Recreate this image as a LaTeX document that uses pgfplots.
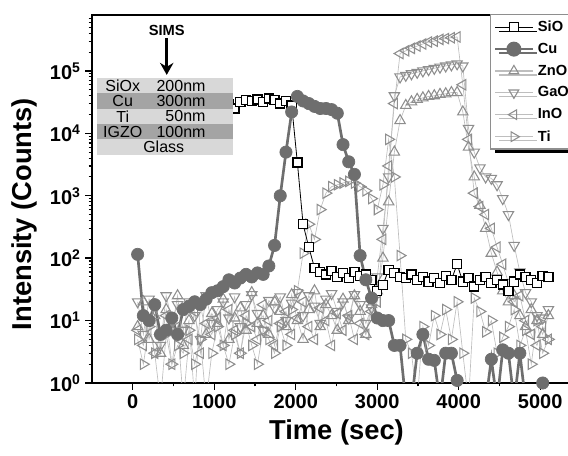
\documentclass[border=0pt]{standalone}
\usepackage{pgfplots}
\pgfplotsset{compat=1.18}
\usepackage{pgfplotstable}
\usepackage{fontspec}
\setmainfont{Liberation Sans}
\usetikzlibrary{shadows,arrows.meta}
\definecolor{cugray}{HTML}{6E6E6E}
\definecolor{lgray}{HTML}{8E8E8E}
\definecolor{lline}{HTML}{BEBEBE}
\definecolor{boxlight}{HTML}{D8D8D8}
\definecolor{boxdark}{HTML}{A4A4A4}
\pgfplotstableread{
t sio cu zno gao ino ti
60 30000 115 8 20 7 5
130 31000 12 20 6 4 2
200 29000 10 5 22 10 8
270 32000 18 12 15 3 3
340 30000 6 3 4 6 0.5
410 31000 7 15 25 12 6
480 29000 11 7 10 2 2
550 30000 6 25 18 8 4
620 32000 15 4 7 0.5 3
690 31000 17 10 20 5 7
760 30000 20 0.5 12 14 2
830 29000 18 18 5 3 5
900 31000 22 6 25 9 0.5
970 30000 28 13 9 6 3
1040 32000 30 9 15 11 8
1110 31000 35 22 20 4 4
1180 29000 45 5 11 15 2
1250 25000 40 11 24 7 6
1320 32000 48 16 8 3 3
1390 34000 55 7 18 12 9
1460 33000 50 28 26 8 4
1530 35000 58 9 13 5 2
1600 32000 55 12 7 18 7
1670 36000 75 6 21 10 5
1740 34000 160 20 16 4 3
1810 30000 1000 14 24 9 8
1880 33000 5000 8 10 14 4
1950 28000 22000 26 19 6 15
2020 3400 39000 10 28 11 30
2090 350 33000 5 12 20 120
2160 150 30000 15 25 8 350
2230 70 27000 30 17 5 200
2300 60 25000 8 9 16 600
2370 55 25000 18 22 10 1100
2440 62 24000 12 27 4 1400
2510 50 21000 7 14 13 1500
2580 58 6600 22 20 7 1600
2650 48 3500 10 11 12 1700
2720 60 2200 25 26 5 1600
2790 52 110 14 18 9 1400
2860 55 45 6 9 6 1200
2930 45 23 18 16 14 900
3000 30 11 30 50 20 600
3070 37 10 100 300 200 1500
3140 65 10 800 2000 3000 8000
3210 58 4 5000 40000 30000 2000
3280 50 4 16000 80000 190000 110
3350 48 0.5 28000 85000 210000 5
3420 55 0.5 32000 90000 230000 3
3490 45 3 35000 95000 250000 0.5
3560 50 6 37000 100000 270000 8
3630 42 2.4 39000 105000 290000 4
3700 48 2.3 40000 110000 300000 12
3770 40 0.5 42000 115000 320000 6
3840 52 3 43000 120000 330000 15
3910 45 3 45000 125000 340000 5
3980 80 1.1 45000 130000 350000 20
4050 42 0.5 22000 120000 60000 3
4120 48 0.5 6000 12000 8000 0.5
4190 35 0.5 2000 5000 1100 23
4260 45 0.5 700 2800 670 14
4330 50 0.5 300 2000 500 6.6
4400 40 2.4 120 1900 300 10
4470 45 0.5 60 1500 150 3
4540 38 3.4 30 900 80 5.4
4610 30 3 20 500 40 8
4680 42 0.5 25 160 20 15
4750 55 3 12 60 25 4
4820 50 0.5 8 28 10 7
4890 45 0.5 15 20 6 2
4960 40 0.5 10 12 4 10
5030 52 1 6 11 8 3
5100 50 0.5 12 15 5 5
}\data
\begin{document}
\begin{tikzpicture}
\begin{axis}[
  set layers,
  at={(0,0)}, anchor=south west, scale only axis,
  width=366.75pt, height=276pt,
  ymode=log, log basis y=10,
  xmin=-500, xmax=5500, ymin=1, ymax=7.87e5,
  xtick={0,1000,2000,3000,4000,5000}, minor x tick num=1,
  ytick={1,10,100,1000,10000,100000,1000000},
  minor ytick={2,3,4,5,6,7,8,9,20,30,40,50,60,70,80,90,200,300,400,500,600,700,800,900,2000,3000,4000,5000,6000,7000,8000,9000,20000,30000,40000,50000,60000,70000,80000,90000,200000,300000,400000,500000,600000,700000},
  xtick pos=bottom, ytick pos=left, tick align=outside,
  major tick length=5pt, minor tick length=2.5pt,
  axis line style={line width=1.4pt, black},
  every tick/.style={line width=1.1pt, black},
  every minor tick/.style={line width=0.8pt, black},
  /pgf/number format/1000 sep={}, /pgf/number format/assume math mode=true,
  xticklabel style={font=\fontsize{15}{15}\selectfont\bfseries},
  yticklabel style={font=\fontsize{15}{15}\selectfont\bfseries},
  yticklabel={10\textsuperscript{\pgfmathprintnumber[fixed,precision=0,assume math mode=true]{\tick}}},
  xlabel={Time (sec)}, ylabel={Intensity (Counts)},
  every axis x label/.style={at={(rel axis cs:0.5,0)}, anchor=center, yshift=-37pt, font=\fontsize{20.5}{20.5}\selectfont\bfseries},
  every axis y label/.style={at={(rel axis cs:0,0.459)}, anchor=center, rotate=90, yshift=51pt, font=\fontsize{20.5}{20.5}\selectfont\bfseries},
  legend style={at={(rel axis cs:0.814,1.002)}, anchor=north west, draw=lgray, line width=0.8pt, fill=white,
    font=\fontsize{11}{12}\selectfont\bfseries, row sep=3.2pt, inner sep=2.5pt,
    nodes={inner xsep=3pt},
    drop shadow={shadow xshift=3pt, shadow yshift=-3pt, fill=black, opacity=1}},
  legend cell align=left,
  legend image code/.code={\draw[mark repeat=2,mark phase=2,#1] plot coordinates {(0pt,0pt) (14pt,0pt) (28pt,0pt)};},
  clip mode=global,
]
\addplot[lline, line width=0.5pt, mark=triangle, mark size=4.5pt, mark options={draw=lgray, line width=0.8pt, solid, rotate=-90}, forget plot] table[x=t,y=ti] {\data};
\addplot[lline, line width=0.5pt, mark=triangle, mark size=4.5pt, mark options={draw=lgray, line width=0.8pt, solid, rotate=90}, forget plot] table[x=t,y=ino] {\data};
\addplot[lline, line width=0.5pt, mark=triangle, mark size=4.5pt, mark options={draw=lgray, line width=0.8pt, solid, rotate=180}, forget plot] table[x=t,y=gao] {\data};
\addplot[lline, line width=0.5pt, mark=triangle, mark size=4.5pt, mark options={draw=lgray, line width=0.8pt, solid}, forget plot] table[x=t,y=zno] {\data};
\addplot[black, line width=0.6pt, mark=square*, mark size=3.4pt, mark options={fill=white, draw=black, line width=1pt, solid}, forget plot] table[x=t,y=sio] {\data};
\addplot[cugray, line width=2pt, mark=*, mark size=4.6pt, mark options={fill=cugray, draw=cugray, line width=0.5pt, solid}, forget plot] table[x=t,y=cu] {\data};

\addlegendimage{black, line width=0.6pt, mark=square*, mark size=3.3pt, mark options={fill=white, draw=black, line width=1pt, solid}}
\addlegendentry{SiO}
\addlegendimage{cugray, line width=2pt, mark=*, mark size=4.6pt, mark options={fill=cugray, draw=cugray, solid}}
\addlegendentry{Cu}
\addlegendimage{lline, line width=0.8pt, mark=triangle, mark size=4.2pt, mark options={draw=lgray, line width=0.8pt, solid}}
\addlegendentry{ZnO}
\addlegendimage{lline, line width=0.8pt, mark=triangle, mark size=4.2pt, mark options={draw=lgray, line width=0.8pt, solid, rotate=180}}
\addlegendentry{GaO}
\addlegendimage{lline, line width=0.8pt, mark=triangle, mark size=4.2pt, mark options={draw=lgray, line width=0.8pt, solid, rotate=90}}
\addlegendentry{InO}
\addlegendimage{lline, line width=0.8pt, mark=triangle, mark size=4.2pt, mark options={draw=lgray, line width=0.8pt, solid, rotate=-90}}
\addlegendentry{Ti}

\begin{pgfonlayer}{axis foreground}
\fill[boxlight] (axis cs:-442,77270) rectangle (axis cs:1227,43850);
\fill[boxdark] (axis cs:-442,43850) rectangle (axis cs:1227,24830);
\fill[boxlight] (axis cs:-442,24830) rectangle (axis cs:1227,14090);
\fill[boxdark] (axis cs:-442,14090) rectangle (axis cs:1227,7980);
\fill[boxlight] (axis cs:-442,7980) rectangle (axis cs:1227,4530);
\begin{scope}[every node/.style={font=\fontsize{12}{12}\selectfont, inner sep=0pt}]
\node at (axis cs:-123,58210) {SiOx};
\node at (axis cs:-123,32960) {Cu};
\node at (axis cs:-123,18700) {Ti};
\node at (axis cs:-123,10610) {IGZO};
\node[anchor=east] at (axis cs:896,58210) {200nm};
\node[anchor=east] at (axis cs:896,32960) {300nm};
\node[anchor=east] at (axis cs:896,18700) {50nm};
\node[anchor=east] at (axis cs:896,10610) {100nm};
\node at (axis cs:380,6010) {Glass};
\end{scope}
\node[font=\fontsize{11}{11}\selectfont\bfseries, inner sep=0pt] at (axis cs:417,453000) {SIMS};
\draw[line width=2.2pt, -{Stealth[length=9pt, width=10pt]}] (axis cs:417,337000) -- (axis cs:417,86300);
\end{pgfonlayer}
\end{axis}
\pgfresetboundingbox
\useasboundingbox (-69pt,-54.75pt) rectangle (357pt,287.25pt);
\end{tikzpicture}
\end{document}
